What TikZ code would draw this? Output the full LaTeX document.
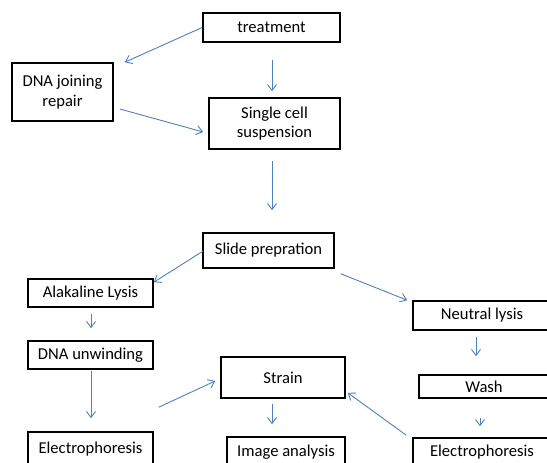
\documentclass[tikz,border=0pt]{standalone}
\usepackage{fontspec}
\setmainfont{Carlito}
\usepackage{tikz}
\usetikzlibrary{positioning,calc,arrows.meta}

\definecolor{arrowblue}{RGB}{79,129,189}

\begin{document}
\begin{tikzpicture}[x=1pt,y=-1pt,
    box/.style={draw=black,line width=1.6pt,align=center,inner sep=0pt,
        font=\fontsize{16.6}{19.5}\selectfont},
    flow/.style={draw=arrowblue,line width=0.9pt,-{Straight Barb[length=6pt,width=9pt]}}]
    \clip (0,0) rectangle (547,463);
    \fill [white] (0,0) rectangle (547,463);

    % top part
    \node [box,minimum width=137,minimum height=29] (treat) at (271.5,27.5) {treatment};
    \node [box,minimum width=101,minimum height=58] (dnarep) at (62.5,92) {DNA joining\\repair};
    \node [box,minimum width=131,minimum height=51] (single) at (274.5,123.5) {Single cell\\suspension};
    \node [box,minimum width=131,minimum height=35] (slide) at (268.5,250.5) {Slide prepration};

    % alkaline branch
    \node [box,minimum width=125,minimum height=28] (alk) at (90.5,293) {Alakaline Lysis};
    \node [box,minimum width=125,minimum height=28] (unwind) at (90.5,355) {DNA unwinding};
    \node [box,minimum width=125,minimum height=34] (elecL) at (90.5,449) {Electrophoresis};

    % middle
    \node [box,minimum width=124,minimum height=41] (strain) at (283,377.5) {Strain};
    \node [box,minimum width=118,minimum height=30] (image) at (286,452) {Image analysis};

    % neutral branch
    \node [box,minimum width=138,minimum height=29] (neutral) at (482,315.5) {Neutral lysis};
    \node [box,minimum width=130,minimum height=23] (wash) at (484,386.5) {Wash};
    \node [box,minimum width=138,minimum height=28] (elecR) at (482,452) {Electrophoresis};

    \draw [flow] (treat.west) -- ($(dnarep.north east)+(11,0)$);
    \draw [flow] ($(treat.south)+(0.5,17)$) -- ($(single.north)+(-2.5,-6)$);
    \draw [flow] ($(dnarep.east)+(6,17)$) -- ($(single.west)+(-5,8.5)$);
    \draw [flow] ($(single.south)+(-2.5,11)$) -- ($(slide.north)+(3.5,-22)$);
    \draw [flow] ($(slide.west)+(1,0.5)$) -- ($(alk.north east)+(0,4)$);
    \draw [flow] ($(slide.south east)+(6,5)$) -- ($(neutral.north west)+(-5,0)$);
    \draw [flow] ($(alk.south)+(0.5,6)$) -- ($(unwind.north)+(0.5,-12)$);
    \draw [flow] ($(unwind.south)+(0.5,1)$) -- ($(elecL.north)+(0.5,-13)$);
    \draw [flow] ($(elecL.north east)+(5,-24)$) -- ($(strain.west)+(-5,3.5)$);
    \draw [flow] ($(strain.south)+(-11,5)$) -- ($(image.north)+(-14,-12)$);
    \draw [flow] ($(elecR.north west)+(-6,-2)$) -- ($(strain.south east)+(2,-6)$);
    \draw [flow] ($(neutral.south)+(-6,6)$) -- ($(wash.north)+(-8,-18)$);
    \draw [flow] ($(wash.south)+(-4,19)$) -- ($(elecR.north)+(-2,-11)$);
\end{tikzpicture}
\end{document}
